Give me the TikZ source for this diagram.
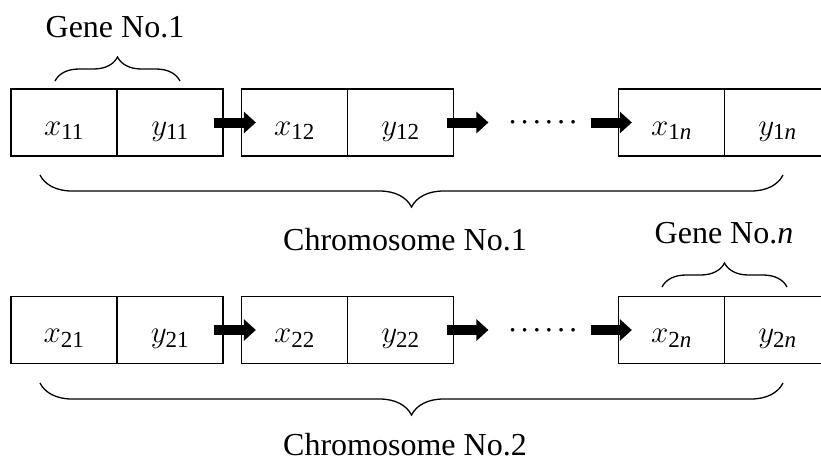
\RequirePackage{fix-cm}
\documentclass[tikz,border=0pt]{standalone}
\usepackage{fontspec}
\setmainfont{Liberation Serif}
\usetikzlibrary{arrows.meta,decorations.pathreplacing}

% index set as a larger subscript for the cell labels
\newcommand\idx[1]{_{\hbox{\fontsize{23}{25}\selectfont #1}}}

% six evenly spaced dots between the arrows
\newcommand\dotrow{\fontsize{9}{9}\selectfont\foreach \k in {1,...,6}{\kern3.75pt$\bullet$\kern3.75pt}}

\begin{document}
\begin{tikzpicture}[x=1pt,y=-1pt,
  cell/.style={draw, line width=1.3pt, minimum width=106pt, minimum height=67pt,
    inner sep=0pt, text height=30pt, text depth=5pt, font=\fontsize{31}{37}\selectfont},
  dotnode/.style={inner sep=0pt},
  flow/.style={line width=10pt, -{Triangle[length=12pt,width=21pt]}},
  curly/.style={decorate, decoration={brace, amplitude=#1}, line width=1.3pt},
  lbl/.style={font=\fontsize{32}{38}\selectfont, anchor=base, inner sep=0pt}]
\clip (0,0) rectangle (821,461);

% chromosome 1
\node[cell] (x11) at (64,122.5) {$x\idx{11}$};
\node[cell] (y11) at (170,122.5) {$y\idx{11}$};
\node[cell] (x12) at (294.5,122.5) {$x\idx{12}$};
\node[cell] (y12) at (400.5,122.5) {$y\idx{12}$};
\node[dotnode] (d1) at (543,122.5) {\dotrow};
\node[cell] (x1n) at (671.5,122.5) {$x\idx{1\textit{n}}$};
\node[cell] (y1n) at (777.5,122.5) {$y\idx{1\textit{n}}$};

\draw[flow, shorten <=-10pt, shorten >=-15pt] (y11.east) -- (x12.west);
\draw[flow, shorten <=-7pt, shorten >=18pt] (y12.east) -- (d1.west);
\draw[flow, shorten <=11pt, shorten >=-14pt] (d1.east) -- (x1n.west);

% chromosome 2
\node[cell] (x21) at (64,330) {$x\idx{21}$};
\node[cell] (y21) at (170,330) {$y\idx{21}$};
\node[cell] (x22) at (294.5,330) {$x\idx{22}$};
\node[cell] (y22) at (400.5,330) {$y\idx{22}$};
\node[dotnode] (d2) at (543,330) {\dotrow};
\node[cell] (x2n) at (671.5,330) {$x\idx{2\textit{n}}$};
\node[cell] (y2n) at (777.5,330) {$y\idx{2\textit{n}}$};

\draw[flow, shorten <=-10pt, shorten >=-15pt] (y21.east) -- (x22.west);
\draw[flow, shorten <=-7pt, shorten >=18pt] (y22.east) -- (d2.west);
\draw[flow, shorten <=11pt, shorten >=-14pt] (d2.east) -- (x2n.west);

% braces and captions
\draw[curly=24pt] (55,81) -- (180,81);
\node[lbl] (gene1) at (115,37) {Gene No.1};

\draw[curly=32pt] (783,175) -- (40,175);
\node[lbl] (chr1) at (405,250) {Chromosome No.1};

\draw[curly=24pt] (662,287) -- (787,287);
\node[lbl] (genen) at (724,243) {Gene No.\textit{n}};

\draw[curly=32pt] (783,383) -- (40,383);
\node[lbl] (chr2) at (405,455) {Chromosome No.2};
\end{tikzpicture}
\end{document}
